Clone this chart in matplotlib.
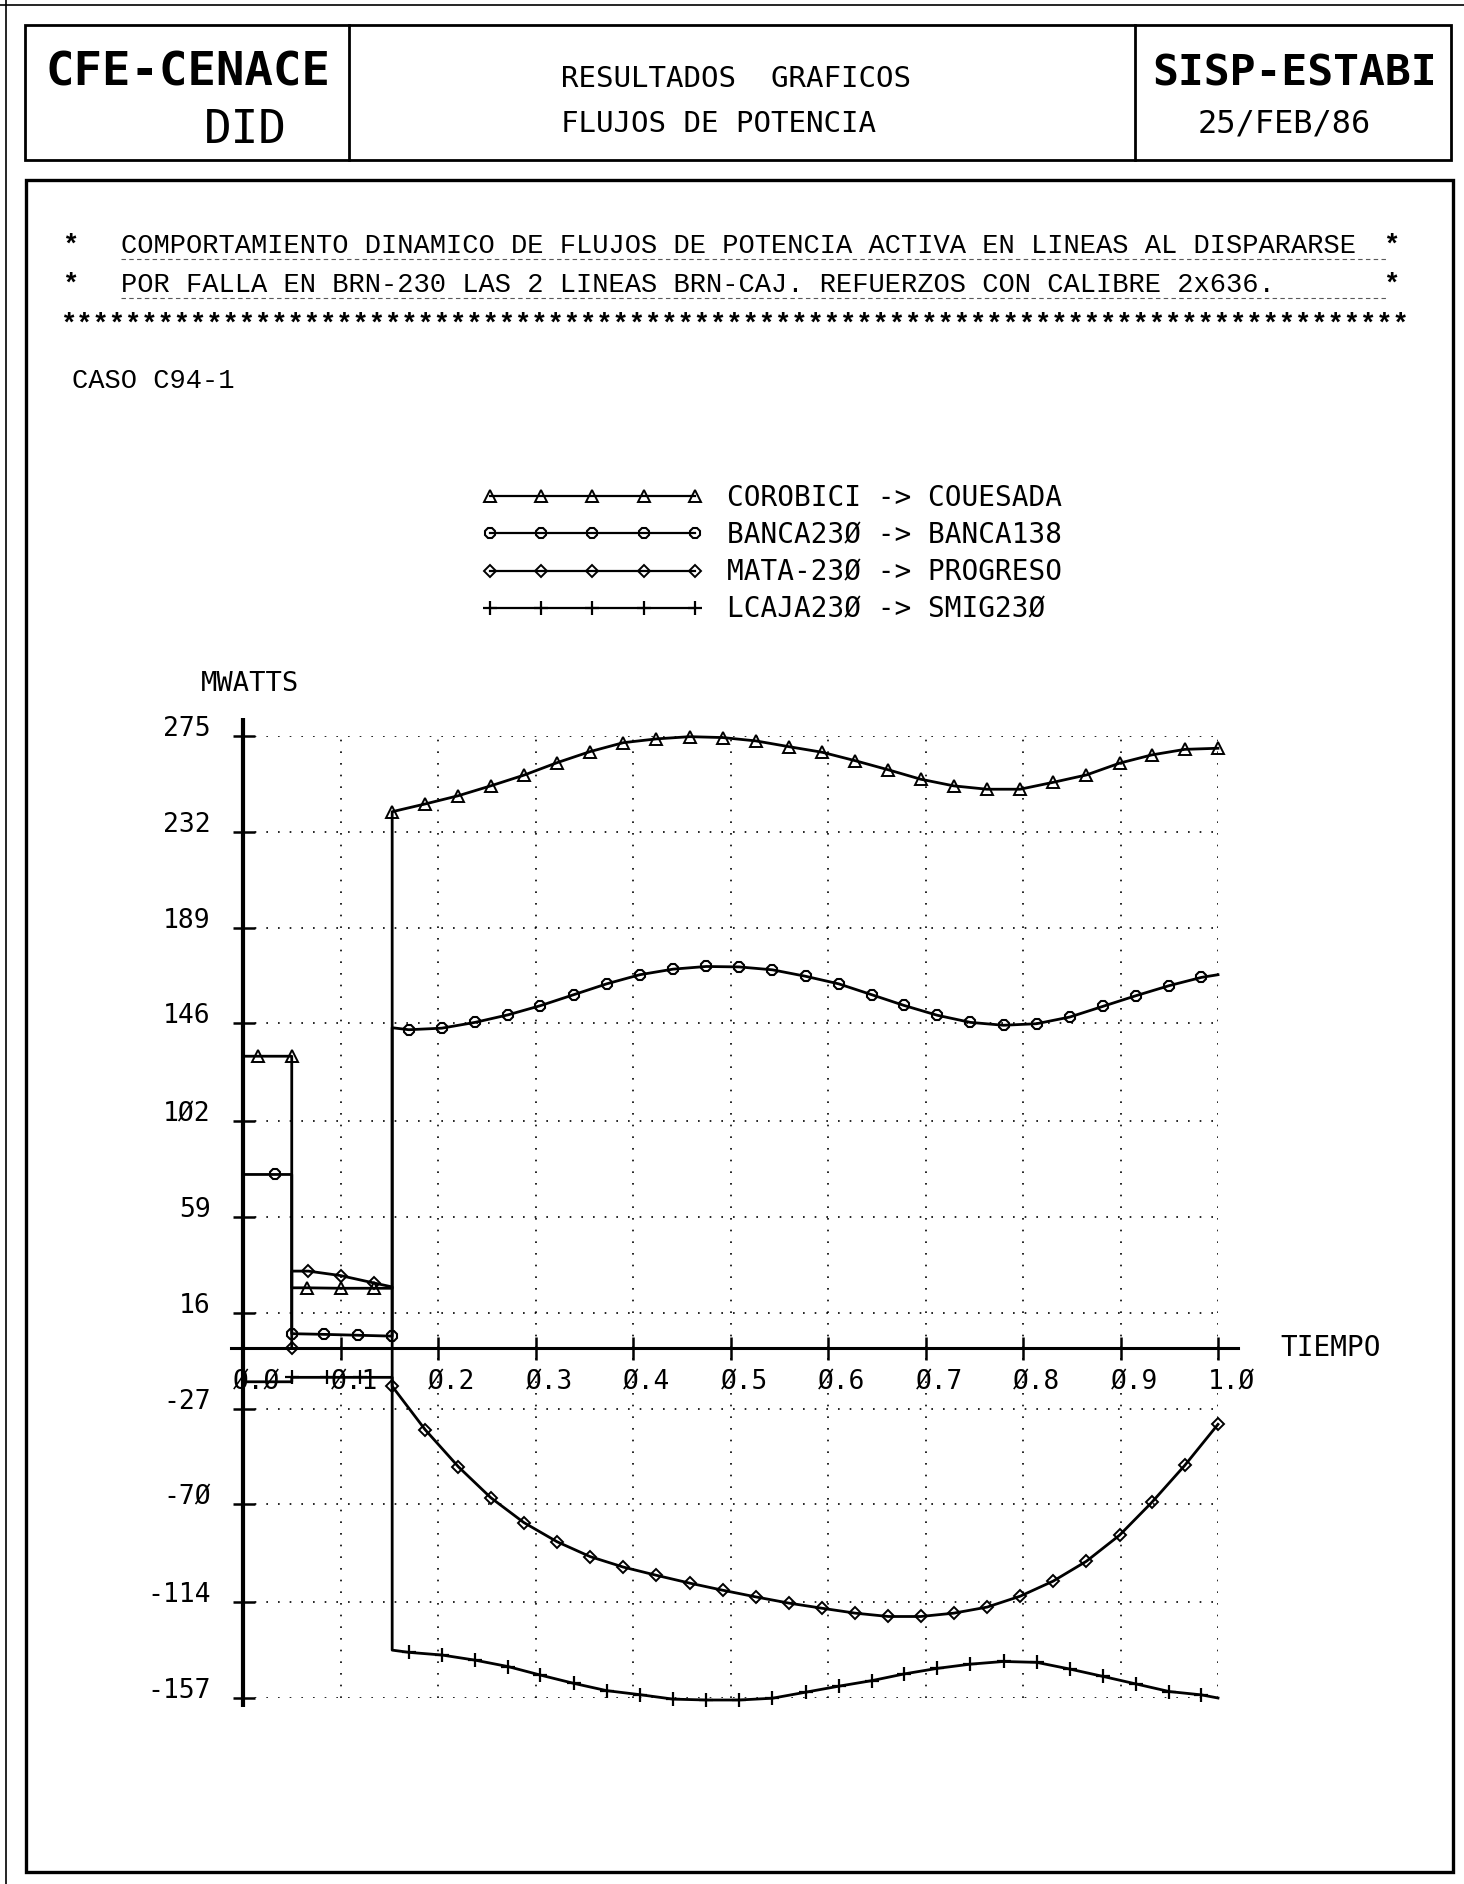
import matplotlib
matplotlib.use('Agg')
import matplotlib.pyplot as plt
from matplotlib.lines import Line2D
from matplotlib.patches import Rectangle
from matplotlib.legend_handler import HandlerLine2D

MONO = 'DejaVu Sans Mono'
TYPE = 'Liberation Mono'

# tiempos (s) de los puntos marcados despues del disparo
TIME_A = [0.153, 0.187, 0.221, 0.254, 0.288, 0.322, 0.356, 0.390, 0.424, 0.458,
          0.492, 0.526, 0.560, 0.594, 0.628, 0.662, 0.695, 0.729, 0.763, 0.797,
          0.831, 0.865, 0.899, 0.932, 0.966, 1.000]
TIME_B = [0.170, 0.204, 0.238, 0.272, 0.305, 0.339, 0.373, 0.407, 0.441, 0.475,
          0.509, 0.543, 0.577, 0.611, 0.645, 0.678, 0.712, 0.746, 0.780, 0.814,
          0.848, 0.882, 0.916, 0.950, 0.983]

# flujos (MW) en TIME_A / TIME_B
COROBICI = [241.0, 244.5, 248.2, 252.6, 257.4, 263.0, 268.0, 272.0, 273.7, 274.7,
            274.3, 272.8, 270.2, 267.7, 263.9, 259.8, 255.6, 252.6, 251.1, 251.1,
            254.2, 257.5, 262.8, 266.5, 269.0, 269.5]
BANCA = [143.1, 143.8, 146.4, 149.8, 153.9, 158.8, 163.7, 167.8, 170.3, 171.5,
         171.3, 170.0, 167.1, 163.7, 158.8, 154.0, 149.6, 146.4, 145.1, 145.8,
         148.8, 153.6, 158.4, 162.9, 166.6]
MATA = [-17.0, -36.6, -53.2, -67.0, -78.2, -86.8, -93.5, -98.2, -101.9, -105.4,
        -108.6, -111.6, -114.4, -116.7, -118.9, -120.4, -120.4, -118.9, -116.2, -111.3,
        -104.5, -95.6, -83.9, -69.2, -52.5, -34.1]
LCAJA = [-136.5, -137.7, -140.0, -142.9, -146.7, -150.4, -153.7, -155.5, -157.5, -157.9,
         -157.9, -157.1, -154.4, -151.7, -149.2, -146.2, -143.7, -141.8, -140.6, -141.0,
         -144.0, -147.3, -150.7, -154.1, -155.6]

# tramos antes del disparo (falla en t=0.05, disparo en t=0.153)
t_cor = [0.0, 0.015, 0.050, 0.050, 0.066, 0.100, 0.134, 0.153] + TIME_A
v_cor = [131.2, 131.2, 131.2, 27.2, 27.2, 27.0, 27.0, 27.0] + COROBICI
mk_cor = [1, 2, 4, 5, 6] + list(range(8, 8 + len(TIME_A)))

t_ban = [0.0, 0.033, 0.050, 0.050, 0.083, 0.118, 0.153, 0.153] + TIME_B + [1.0]
v_ban = [78.1, 78.1, 78.1, 6.6, 6.3, 5.9, 5.5, 144.0] + BANCA + [167.8]
mk_ban = [1, 3, 4, 5, 6] + list(range(8, 8 + len(TIME_B)))

t_mat = [0.0, 0.050, 0.050, 0.067, 0.100, 0.134, 0.153] + TIME_A
v_mat = [0.0, 0.0, 34.7, 34.7, 32.7, 29.4, 27.6] + MATA
mk_mat = [1, 3, 4, 5] + list(range(7, 7 + len(TIME_A)))

t_lca = [0.0, 0.050, 0.050, 0.086, 0.120, 0.153, 0.153] + TIME_B + [1.0]
v_lca = [-15.0, -15.0, -13.0, -13.0, -13.0, -13.0, -135.5] + LCAJA + [-157.0]
mk_lca = [2, 3, 4] + list(range(7, 7 + len(TIME_B)))

LABELS = ['COROBICI -> COUESADA', 'BANCA23Ø -> BANCA138',
          'MATA-23Ø -> PROGRESO', 'LCAJA23Ø -> SMIG23Ø']

YTICKS = [275, 232, 189, 146, 102, 59, 16, -27, -70, -114, -157]
YTICK_LABELS = ['275', '232', '189', '146', '1Ø2', '59', '16', '-27', '-7Ø', '-114', '-157']
XTICKS = [0.0, 0.1, 0.2, 0.3, 0.4, 0.5, 0.6, 0.7, 0.8, 0.9, 1.0]
XTICK_LABELS = ['Ø.Ø', 'Ø.1', 'Ø.2', 'Ø.3', 'Ø.4', 'Ø.5', 'Ø.6', 'Ø.7', 'Ø.8', 'Ø.9', '1.Ø']

LINE1 = 'COMPORTAMIENTO DINAMICO DE FLUJOS DE POTENCIA ACTIVA EN LINEAS AL DISPARARSE'
LINE2 = 'POR FALLA EN BRN-230 LAS 2 LINEAS BRN-CAJ. REFUERZOS CON CALIBRE 2x636.'

fig = plt.figure(figsize=(14.64, 18.84), dpi=100)

# hoja: marcos y textos en pixeles
page = fig.add_axes([0, 0, 1, 1])
page.set_xlim(0, 1464)
page.set_ylim(1884, 0)
page.axis('off')

page.plot([0, 1464], [5, 5], color='k', lw=1.2)
page.plot([6, 6], [0, 1884], color='k', lw=1.2)
page.add_patch(Rectangle((25, 25), 1426, 135, fill=False, ec='k', lw=2))
page.plot([349, 349], [25, 160], color='k', lw=2)
page.plot([1135, 1135], [25, 160], color='k', lw=2)
page.add_patch(Rectangle((26, 180), 1427, 1692, fill=False, ec='k', lw=2.4))

page.text(188, 85, 'CFE-CENACE', ha='center', va='baseline', family=MONO, size=34, weight='bold')
page.text(245, 143, 'DID', ha='center', va='baseline', family=MONO, size=33)
page.text(561, 87, 'RESULTADOS  GRAFICOS', ha='left', va='baseline', family=MONO, size=21)
page.text(561, 132, 'FLUJOS DE POTENCIA', ha='left', va='baseline', family=MONO, size=21)
page.text(1295, 85, 'SISP-ESTABI', ha='center', va='baseline', family=MONO, size=31, weight='bold')
page.text(1284, 133, '25/FEB/86', ha='center', va='baseline', family=MONO, size=23)

# comentario del caso
for y, line in [(253, LINE1), (292, LINE2)]:
    page.text(70, y, '*', ha='center', va='baseline', family=TYPE, size=19.5, weight='bold')
    page.text(121, y, line, ha='left', va='baseline', family=TYPE, size=19.5)
    page.text(1391, y, '*', ha='center', va='baseline', family=TYPE, size=19.5, weight='bold')
page.text(60, 332, '*' * 83, ha='left', va='baseline', family=TYPE, size=19.5, weight='bold')
page.text(72, 388, 'CASO C94-1', ha='left', va='baseline', family=TYPE, size=19.5)
page.plot([121, 1386], [259, 259], color='0.35', lw=0.8, ls=(0, (4, 3)))
page.plot([121, 1386], [298, 298], color='0.35', lw=0.8, ls=(0, (4, 3)))

# grafica
ax = fig.add_axes([243 / 1464, (1884 - 1698) / 1884, 975 / 1464, (1698 - 736) / 1884])
ax.set_xlim(0, 1)
ax.set_ylim(-157, 275)
ax.axis('off')

ax.hlines(YTICKS, 0, 1, colors='k', lw=1.2, linestyles=(0, (1, 6)))
ax.vlines(XTICKS[1:], -157, 275, colors='k', lw=1.2, linestyles=(0, (1, 6)))

ax.plot([0, 0], [-161, 283], color='k', lw=3, clip_on=False, solid_capstyle='butt')
ax.plot([-0.012, 1.021], [0, 0], color='k', lw=2.2, clip_on=False)
ax.hlines(YTICKS, -0.0103, 0.0123, colors='k', lw=1.8, clip_on=False)
ax.vlines(XTICKS[1:], -5, 5, colors='k', lw=1.8, clip_on=False)

for v, lab in zip(YTICKS, YTICK_LABELS):
    ax.text(-0.033, v, lab, ha='right', va='baseline', family=MONO, size=19, clip_on=False)
for x, lab in zip(XTICKS, XTICK_LABELS):
    ax.text(x + 0.014, -18.4, lab, ha='center', va='baseline', family=MONO, size=18.8, clip_on=False)

ax.text(-0.043, 295, 'MWATTS', ha='left', va='baseline', family=MONO, size=19.5, clip_on=False)
ax.text(1.064, -3.4, 'TIEMPO', ha='left', va='baseline', family=MONO, size=20, clip_on=False)

style = dict(color='k', lw=2, mfc='none', mec='k', clip_on=False)
ax.plot(t_cor, v_cor, marker='^', ms=8.5, mew=1.4, markevery=mk_cor, **style)
ax.plot(t_ban, v_ban, marker='8', ms=8.5, mew=1.5, markevery=mk_ban, **style)
ax.plot(t_mat, v_mat, marker='D', ms=6.5, mew=1.4, markevery=mk_mat, **style)
ax.plot(t_lca, v_lca, marker='+', ms=10, mew=1.6, markevery=mk_lca, **style)

handles = [
    Line2D([], [], color='k', lw=1.6, marker='^', ms=8.5, mfc='none', mec='k', mew=1.4),
    Line2D([], [], color='k', lw=1.6, marker='8', ms=8.5, mfc='none', mec='k', mew=1.5),
    Line2D([], [], color='k', lw=1.6, marker='D', ms=6.5, mfc='none', mec='k', mew=1.4),
    Line2D([], [], color='k', lw=1.6, marker='+', ms=10, mec='k', mew=1.6),
]
fig.legend(handles, LABELS, loc='upper left', bbox_to_anchor=(490 / 1464, 1 - 484 / 1884),
           frameon=False, borderpad=0, borderaxespad=0, handlelength=7.37,
           handletextpad=1.15, labelspacing=0.33, prop={'family': MONO, 'size': 20},
           handler_map={Line2D: HandlerLine2D(numpoints=5, marker_pad=0)})

fig.savefig('out.png', dpi=100, facecolor='white')
